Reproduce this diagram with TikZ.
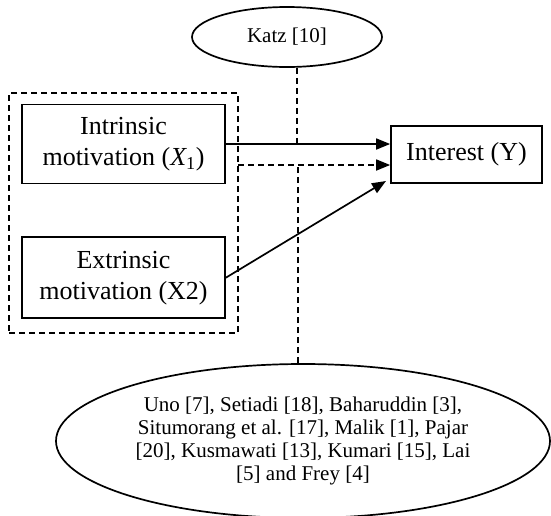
\documentclass[tikz,border=0pt]{standalone}
\usepackage{fontspec}
\setmainfont{Liberation Serif}
\usetikzlibrary{shapes.geometric, arrows.meta, positioning}
\tikzstyle{var} = [rectangle, draw=black, line width=1.7pt, align=center, inner sep=0pt,
font=\fontsize{26}{31}\selectfont]
\tikzstyle{group} = [rectangle, draw=black, line width=1.7pt, dash pattern=on 6pt off 4pt, inner sep=0pt]
\tikzstyle{source} = [ellipse, draw=black, line width=1.7pt, align=center, inner sep=0pt,
font=\fontsize{21}{23}\selectfont]
\tikzstyle{arrow} = [line width=1.7pt, -{Triangle[length=14pt,width=11pt]}]
\tikzstyle{dasharrow} = [arrow, dash pattern=on 6pt off 4pt]
\tikzstyle{link} = [line width=1.7pt, dash pattern=on 6pt off 4pt]

\begin{document}
\begin{tikzpicture}[x=1pt, y=-1pt]
\useasboundingbox (0,0) rectangle (551,515);

% ------------------------- nodes -------------------------

% ----- node: theory on top
\node(katz)[source, minimum width=190pt, minimum height=60pt] at (287,37) {Katz [10]};
% ----- node: X1
\node(intr)[var, minimum width=203pt, minimum height=79pt] at (123.5,144) {Intrinsic\\motivation ({\itshape X}\textsubscript{1})};
% ----- node: X2
\node(extr)[var, minimum width=203pt, minimum height=81pt, below=52pt of intr] {Extrinsic\\motivation (X2)};
% ----- node: group of X
\node(grp)[group, minimum width=229pt, minimum height=240pt] at (123.5,213) {};
% ----- node: Y
\node(interest)[var, minimum width=151pt, minimum height=57pt] at (466.5,154.5) {Interest (Y)};
% ----- node: theory below
\node(uno)[source, minimum width=494pt, minimum height=154pt] at (303,441) {Uno [7], Setiadi [18], Baharuddin [3],\\Situmorang et al. [17], Malik [1], Pajar\\{[20]}, Kusmawati [13], Kumari [15], Lai\\{[5]} and Frey [4]};

% ----- free ends
\coordinate(k1) at (297,144);
\coordinate(d1) at (238,165);
\coordinate(u1) at (298,165);
\coordinate(tipY) at (386,181);

% ------------------------- connections -------------------------
\draw[arrow](intr.east)--(intr.east -| interest.west);
\draw[dasharrow](d1)--(d1 -| interest.west);
\draw[arrow](extr.east)--(tipY);
\draw[link](k1 |- katz.south)--(k1);
\draw[link](u1 |- uno.north)--(u1);

\end{tikzpicture}
\end{document}
